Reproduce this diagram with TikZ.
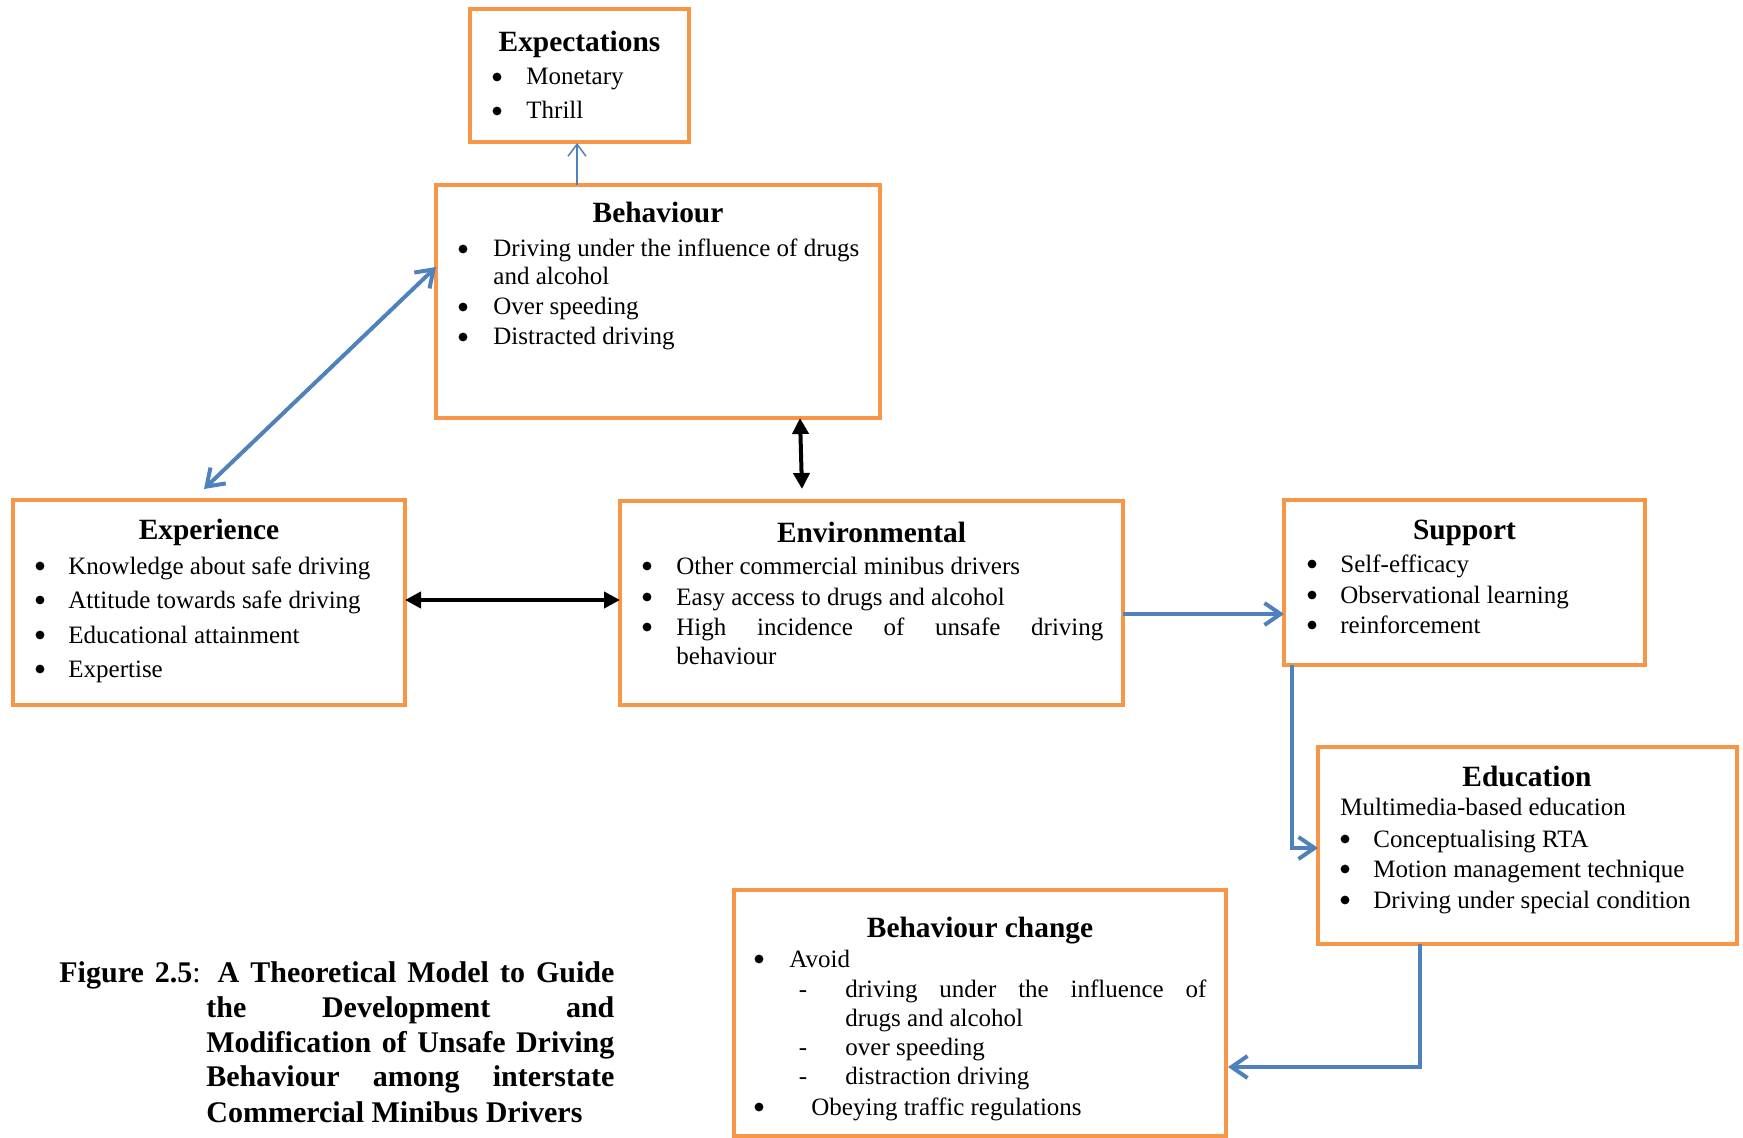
\documentclass[tikz,border=0pt]{standalone}
\usepackage{fontspec}
\setmainfont{Liberation Serif}
\usetikzlibrary{arrows.meta,fit,calc}
\definecolor{boxorange}{HTML}{F79646}
\definecolor{arrblue}{HTML}{4F81BD}
\newcommand\myitem[5]{\node[bul] (#1b) at (#2,#4-8) {}; \node[txt] (#1) at (#3,#4) {#5};}
\newcommand\mydash[5]{\node[dsh] (#1b) at (#2,#4) {-}; \node[txt] (#1) at (#3,#4) {#5};}
\begin{document}
\begin{tikzpicture}[x=0.5pt,y=-0.5pt,
  box/.style={draw=boxorange, line width=2pt, inner sep=0pt, outer sep=0pt, rectangle},
  txt/.style={anchor=base west, inner sep=0pt, font=\fontsize{12.5}{15}\selectfont},
  bul/.style={circle, fill=black, inner sep=0pt, minimum size=4.4pt},
  dsh/.style={anchor=base, inner sep=0pt, font=\fontsize{12.5}{15}\selectfont},
  ttl/.style={anchor=base, inner sep=0pt, font=\fontsize{14.7}{17}\selectfont\bfseries},
  capline/.style={anchor=base west, inner sep=0pt, font=\fontsize{15}{18}\selectfont\bfseries},
  bluearrow/.style={draw=arrblue, line width=2pt},
  blackarrow/.style={draw=black, line width=2pt, {Triangle[length=8pt,width=8pt]}-{Triangle[length=8pt,width=8pt]}},
  barb/.tip={Straight Barb[length=8pt,width=11pt]}
]
\useasboundingbox (0,0) rectangle (1743,1138);

% boxes
\node[box, fit={(470,9)(689,142)}] (expct) {};
\node[box, fit={(436,185)(880,418)}] (beh) {};
\node[box, fit={(13,500)(405,705)}] (expr) {};
\node[box, fit={(620,501)(1123,705)}] (env) {};
\node[box, fit={(1284,500)(1645,665)}] (sup) {};
\node[box, fit={(1318,747)(1737,944)}] (edu) {};
\node[box, fit={(734,890)(1226,1136)}] (bch) {};

% Expectations
\node[ttl] (expctT) at (579.5,52) {Expectations};
\myitem{x1}{497}{526}{85}{Monetary}
\myitem{x2}{497}{526}{119}{Thrill}

% Behaviour
\node[ttl] (behT) at (658,223) {Behaviour};
\myitem{b1}{463}{493}{257}{Driving under the influence of drugs}
\node[txt] (b1c) at (493,285) {and alcohol};
\myitem{b2}{463}{493}{315}{Over speeding}
\myitem{b3}{463}{493}{345}{Distracted driving}

% Experience
\node[ttl] (exprT) at (209,539) {Experience};
\myitem{p1}{40}{68}{574}{Knowledge about safe driving}
\myitem{p2}{40}{68}{608}{Attitude towards safe driving}
\myitem{p3}{40}{68}{643}{Educational attainment}
\myitem{p4}{40}{68}{677}{Expertise}

% Environmental
\node[ttl] (envT) at (871.5,542) {Environmental};
\myitem{n1}{647}{676}{574}{Other commercial minibus drivers}
\myitem{n2}{647}{676}{605}{Easy access to drugs and alcohol}
\myitem{n3}{647}{676}{635}{\makebox[213.5pt][s]{High incidence of unsafe driving}}
\node[txt] (n3c) at (676,664) {behaviour};

% Support
\node[ttl] (supT) at (1464.5,539) {Support};
\myitem{s1}{1312}{1340}{572}{Self-efficacy}
\myitem{s2}{1312}{1340}{603}{Observational learning}
\myitem{s3}{1312}{1340}{633}{reinforcement}

% Education
\node[ttl] (eduT) at (1527,786) {Education};
\node[txt] (eduS) at (1340,815) {Multimedia-based education};
\myitem{d1}{1345}{1373}{847}{Conceptualising RTA}
\myitem{d2}{1345}{1373}{877}{Motion management technique}
\myitem{d3}{1345}{1373}{908}{Driving under special condition}

% Behaviour change
\node[ttl] (bchT) at (980,937) {Behaviour change};
\myitem{c1}{759}{789}{967}{Avoid}
\mydash{c2}{803}{845}{997}{\makebox[180.5pt][s]{driving under the influence of}}
\node[txt] (c2c) at (845,1026) {drugs and alcohol};
\mydash{c3}{803}{845}{1055}{over speeding}
\mydash{c4}{803}{845}{1084}{distraction driving}
\myitem{c5}{759}{811}{1115}{Obeying traffic regulations}

% caption
\node[capline] (cap1) at (59,982) {\makebox[277.5pt][s]{Figure 2.5\textmd{:} A Theoretical Model to Guide}};
\node[capline] (cap2) at (206,1017) {\makebox[204pt][s]{the Development and}};
\node[capline] (cap3) at (206,1052) {\makebox[204pt][s]{Modification of Unsafe Driving}};
\node[capline] (cap4) at (206,1086) {\makebox[204pt][s]{Behaviour among interstate}};
\node[capline] (cap5) at (206,1122) {Commercial Minibus Drivers};

% connectors
\draw[draw=arrblue, line width=0.75pt, -{Straight Barb[length=6pt,width=9pt]}]
  ($(beh.north west)+(141,0)$) -- ($(expct.south west)+(107,1)$);
\draw[bluearrow, barb-barb]
  ($(beh.north west)+(0,82)$) -- ($(expr.north west)+(191,-11)$);
\draw[blackarrow]
  ($(beh.south west)+(364,0)$) -- ($(env.north west)+(182,-12)$);
\draw[blackarrow]
  ($(expr.north east)+(0,100)$) -- ($(env.north west)+(0,99)$);
\draw[bluearrow, -barb]
  ($(env.north east)+(0,113)$) -- ($(sup.north west)+(0,114)$);
\draw[bluearrow, -barb]
  ($(sup.south west)+(8,0)$) |- ($(edu.north west)+(0,101)$);
\draw[bluearrow, -barb]
  ($(edu.south west)+(102,0)$) |- ($(bch.north east)+(2,177)$);
\end{tikzpicture}
\end{document}
